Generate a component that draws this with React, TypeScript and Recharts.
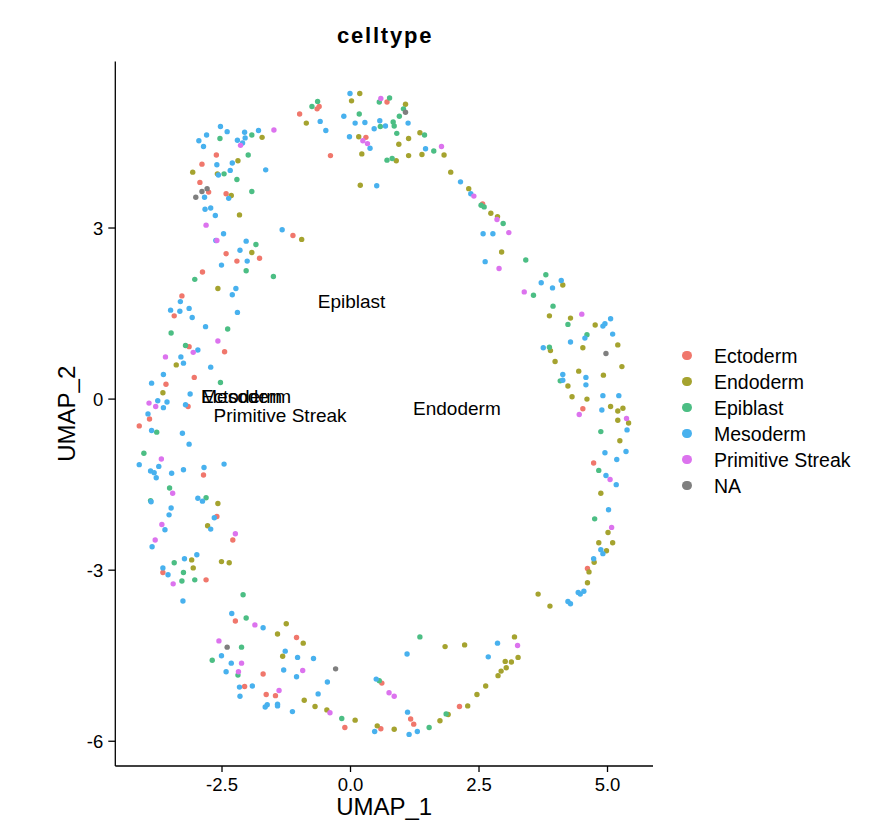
import React from 'react';
import { ScatterChart, Scatter, XAxis, YAxis } from 'recharts';

const FONT = '"Liberation Sans", Arial, Helvetica, sans-serif';

const CATEGORIES = ['Ectoderm', 'Endoderm', 'Epiblast', 'Mesoderm', 'Primitive Streak', 'NA'];
const COLORS = ['#F0776C', '#A5A32F', '#4CBE84', '#48B1EE', '#DC73EE', '#7F7F7F'];

const ECTODERM: [number, number][] = [
  [-2.61, 4.28], [-2.89, 4.12], [-2.93, 3.8], [-2.76, 3.63], [-2.42, 3.6], [-1.12, 2.87], [-2.42, 2.55],
  [-1.77, 2.47], [-2.21, 2.42], [-2.88, 2.23], [-3.28, 1.81],
  [0.71, 5.21], [-0.61, 5.13], [-0.65, 5.09], [-0.99, 5.0], [0.3, 4.59], [-0.39, 4.27],
  [2.57, 3.42],
  [-3.43, 1.46], [-3.14, 0.92], [-2.45, 0.83], [-3.04, 0.38], [-3.59, 0.26], [-3.16, -0.13], [-3.91, -0.35],
  [-4.11, -0.47], [-2.86, -1.33],
  [-2.6, -2.06], [-2.29, -2.47], [-3.65, -3.04], [-2.81, -3.17],
  [4.52, -0.17], [4.73, -1.12], [4.61, -2.97],
  [-2.24, -3.89], [-1.05, -4.18], [-1.7, -4.82], [-2.06, -5.04], [-1.64, -5.18], [-1.46, -5.2], [-0.11, -5.76],
  [2.12, -5.39], [0.61, -4.98], [1.17, -5.61], [1.23, -5.7], [0.59, -5.78],
];

const ENDODERM: [number, number][] = [
  [-1.72, 4.59], [-2.19, 4.18], [-3.07, 3.98], [-2.59, 3.95], [-2.32, 3.57], [-2.16, 3.23], [-0.95, 2.8],
  [-1.92, 2.57], [-2.58, 1.94],
  [0.18, 5.36], [0.02, 5.23], [1.07, 5.17], [-0.86, 4.84], [0.16, 4.6], [0.22, 4.3], [0.94, 4.47], [1.13, 4.57],
  [1.35, 4.67], [1.82, 4.28], [1.39, 4.29], [1.13, 4.27], [0.89, 4.18], [1.95, 3.98], [2.3, 3.69], [0.19, 3.75],
  [2.73, 3.26], [2.86, 3.2], [2.94, 2.58], [4.13, 2.0], [3.87, 1.46], [4.28, 1.42], [4.76, 1.3], [5.2, 0.95],
  [3.89, 0.85], [4.52, 0.9], [3.98, 0.66], [5.28, 0.57], [4.44, 0.49], [4.92, 0.42], [4.23, 0.23], [4.31, 0.04],
  [4.6, 0.0],
  [-3.39, 0.6], [-3.65, 0.11],
  [-2.58, -1.83], [-2.78, -2.22], [-3.09, -2.82], [-2.51, -2.85], [-2.36, -2.87], [-3.06, -2.96],
  [5.06, -0.13], [5.2, -0.21], [5.3, -0.16], [5.2, -0.37], [5.41, -0.42], [5.24, -0.73], [4.87, -1.65],
  [5.01, -2.34], [4.83, -2.52], [5.1, -2.52], [4.98, -2.66], [4.74, -2.86], [4.64, -3.03], [4.61, -3.22],
  [3.65, -3.42], [3.88, -3.63],
  [-1.25, -3.94], [-1.42, -4.12], [-0.92, -4.28], [-1.32, -4.51], [-0.9, -5.28], [-0.69, -5.39], [-0.46, -5.45],
  [0.09, -5.63],
  [1.84, -4.34], [2.22, -4.31], [3.19, -4.17], [3.01, -4.6], [3.13, -4.61], [3.26, -4.53], [3.03, -4.71],
  [2.93, -4.77], [2.87, -4.85], [2.63, -5.03], [2.46, -5.18], [2.28, -5.38], [1.9, -5.53], [1.74, -5.64],
  [0.52, -5.73], [0.85, -5.79],
];

const EPIBLAST: [number, number][] = [
  [-2.54, 4.57], [-1.92, 4.63], [-1.99, 4.28], [-2.46, 3.95], [-2.21, 3.85], [-1.92, 3.64], [-1.84, 2.71],
  [-2.03, 2.25], [-3.03, 2.1], [-1.5, 2.15],
  [0.76, 5.28], [0.56, 5.21], [1.03, 5.09], [-0.64, 5.22], [-0.75, 5.13], [0.17, 5.0], [0.95, 4.96],
  [0.83, 4.86], [0.85, 4.79], [0.58, 4.78], [0.9, 4.66], [1.44, 4.63], [1.62, 4.35], [0.71, 4.19], [0.81, 4.22],
  [2.54, 3.4], [2.6, 3.37], [2.97, 3.08], [3.41, 2.44], [3.8, 2.18], [3.56, 1.82], [3.94, 1.63], [4.23, 1.31],
  [4.6, 1.13], [3.87, 0.91], [4.08, 0.32],
  [-2.39, 1.23], [-3.49, 1.16], [-3.21, 0.94], [-2.53, 0.29], [-3.77, -0.58], [-4.02, -0.95],
  [-3.52, -1.56], [-3.89, -1.78], [-2.81, -1.73], [-3.43, -2.87], [-3.25, -3.04], [-3.28, -3.19],
  [-3.03, -3.17], [-2.09, -3.43],
  [4.87, -0.57], [4.83, -1.25], [4.75, -2.1],
  [-2.03, -3.84], [-2.12, -4.35], [-2.69, -4.58], [-2.19, -4.84], [-0.17, -5.6],
  [1.35, -4.17], [0.56, -4.94], [1.86, -5.52], [1.53, -5.76],
];

const MESODERM: [number, number][] = [
  [-2.53, 4.78], [-2.4, 4.69], [-2.8, 4.63], [-2.95, 4.53], [-2.86, 4.43], [-2.06, 4.68], [-2.05, 4.58],
  [-2.2, 4.54], [-2.1, 4.49], [-1.79, 4.71], [-2.6, 4.11], [-2.3, 4.14], [-2.57, 3.93], [-2.34, 4.01],
  [-1.65, 4.02], [-2.84, 3.54], [-2.37, 3.52], [-2.83, 3.33], [-2.72, 3.35], [-2.63, 3.22], [-2.47, 2.9],
  [-2.62, 2.78], [-2.03, 2.77], [-1.33, 2.97], [-2.15, 2.61], [-2.01, 2.42], [-2.51, 2.35], [-2.23, 1.94],
  [-2.3, 1.83],
  [-0.01, 5.36], [-0.59, 4.87], [-0.48, 4.71], [-0.13, 4.96], [0.09, 4.84], [0.28, 4.85], [0.57, 4.88],
  [1.12, 4.84], [0.46, 4.74], [0.68, 4.79], [-0.02, 4.6], [0.38, 4.4], [1.46, 4.39], [2.14, 3.81], [2.34, 3.6],
  [0.51, 3.74],
  [2.58, 2.9], [2.77, 2.9], [2.62, 2.41], [4.1, 2.08], [3.71, 2.04], [3.93, 1.95], [4.91, 1.28], [4.95, 1.32],
  [5.06, 1.41], [5.1, 1.14], [4.56, 1.07], [4.28, 1.0], [3.75, 0.9], [4.13, 0.43], [4.13, 0.33], [4.58, 0.38],
  [4.58, 0.25], [4.91, 0.06], [5.22, 0.06],
  [-3.31, 1.71], [-3.5, 1.56], [-3.32, 1.54], [-3.14, 1.59], [-3.08, 1.43], [-2.2, 1.52], [-2.82, 1.27],
  [-2.97, 0.86], [-3.3, 0.74], [-3.25, 0.63], [-2.72, 0.56], [-3.64, 0.43], [-3.87, 0.28], [-3.12, 0.09],
  [-3.75, -0.03], [-3.57, -0.05], [-3.64, -0.15], [-3.21, -0.1], [-3.94, -0.26], [-3.87, -0.55], [-3.27, -0.6],
  [-3.14, -0.79], [-4.11, -1.15], [-3.73, -1.18], [-2.46, -1.14], [-3.89, -1.26], [-3.82, -1.29],
  [-3.78, -1.38], [-3.48, -1.3], [-3.25, -1.24], [-2.85, -1.2],
  [-3.88, -1.8], [-3.49, -1.91], [-3.53, -2.03], [-2.97, -1.74], [-2.88, -1.79], [-2.65, -2.08], [-2.72, -2.28],
  [-3.61, -2.29], [-3.86, -2.59], [-2.99, -2.73], [-3.23, -2.8], [-3.65, -2.96], [-3.55, -3.08], [-3.26, -3.54],
  [4.89, -0.19], [5.38, -0.54], [4.95, -0.94], [5.36, -0.92], [5.18, -1.06], [4.97, -1.34], [5.17, -1.5],
  [5.02, -1.94], [4.87, -2.64], [4.91, -2.71], [4.73, -2.8], [4.43, -3.39], [4.47, -3.42], [4.54, -3.37],
  [4.23, -3.55], [4.28, -3.59],
  [-2.31, -3.76], [-1.7, -4.01], [-2.51, -4.5], [-2.32, -4.63], [-2.42, -4.78], [-1.27, -4.42], [-1.03, -4.53],
  [-0.72, -4.55], [-1.3, -4.75], [-1.05, -4.87], [-0.45, -4.96], [-2.16, -5.05], [-1.91, -5.03], [-2.15, -5.21],
  [-0.63, -5.17], [-1.66, -5.4], [-1.62, -5.36], [-1.42, -5.38], [-1.42, -5.35], [-1.13, -5.48],
  [2.86, -4.28], [1.1, -4.47], [2.68, -4.52], [0.5, -4.91], [1.11, -5.49], [1.3, -5.83], [1.14, -5.88],
  [0.47, -5.83],
];

const PRIMITIVE_STREAK: [number, number][] = [
  [-2.14, 4.45], [-1.49, 4.72], [-2.81, 3.05], [-2.6, 2.78],
  [0.59, 5.27], [0.24, 4.53], [0.33, 4.48], [1.77, 4.43], [2.4, 3.56],
  [2.85, 3.15], [3.08, 2.92], [2.89, 2.29], [3.38, 1.88], [4.5, 1.49],
  [-2.58, 1.02], [-3.06, 0.82], [-3.6, 0.74], [-3.92, -0.07], [-3.79, -0.13], [-3.68, -1.05],
  [-3.46, -1.65], [-3.67, -2.2], [-2.24, -2.36], [-3.8, -2.47], [-3.45, -3.24],
  [4.45, -0.27], [5.37, -0.34], [5.05, -1.41], [5.08, -2.25],
  [-1.86, -3.96], [-2.56, -4.24], [-2.12, -4.63], [-2.18, -4.78], [-0.93, -4.76], [-1.39, -5.11], [-0.4, -5.5],
  [3.25, -4.32], [0.75, -5.15], [0.85, -5.21],
];

const NA_CELLS: [number, number][] = [
  [-2.79, 3.69], [-2.89, 3.64], [-3.01, 3.54], [1.07, 5.03], [4.97, 0.8], [-2.4, -4.35], [-0.29, -4.73],
];

const SERIES = [ECTODERM, ENDODERM, EPIBLAST, MESODERM, PRIMITIVE_STREAK, NA_CELLS];

const LABEL_TEXT = ['Epiblast', 'Ectoderm', 'Mesoderm', 'Primitive Streak', 'Endoderm'];
const LABEL_X = [0.02, -2.12, -2.03, -1.37, 2.07];
const LABEL_Y = [1.72, 0.04, 0.04, -0.28, -0.17];

const X_TICKS = [-2.5, 0, 2.5, 5];
const Y_TICKS = [-6, -3, 0, 3];
const X_DOMAIN: [number, number] = [-4.576, 5.885];
const Y_DOMAIN: [number, number] = [-6.434, 5.92];

const CHART_W = 866;
const CHART_H = 830;
const MARGIN = { top: 53.5, right: 221, bottom: 0, left: 0 };
const Y_AXIS_W = 107.3;
const X_AXIS_H = 72;

const labelData = LABEL_TEXT.map((t, i) => ({ x: LABEL_X[i], y: LABEL_Y[i], label: t }));

const XTitle = (props: any) => {
  const vb = props && props.viewBox && props.viewBox.width
    ? props.viewBox
    : { x: Y_AXIS_W, y: CHART_H - X_AXIS_H, width: CHART_W - MARGIN.right - Y_AXIS_W, height: X_AXIS_H };
  const cx = vb.x + vb.width / 2;
  return (
    <g>
      <text x={cx} y={vb.y + 49} textAnchor="middle" fontSize={24} fontFamily={FONT} fill="#000">UMAP_1</text>
      <text x={cx + 1} y={35.3} textAnchor="middle" fontSize={22} fontWeight="bold" fontFamily={FONT}
        fill="#000" letterSpacing={1.8}>celltype</text>
    </g>
  );
};

const YTitle = (props: any) => {
  const vb = props && props.viewBox && props.viewBox.height
    ? props.viewBox
    : { x: 0, y: MARGIN.top, width: Y_AXIS_W, height: CHART_H - MARGIN.top - X_AXIS_H };
  const cy = vb.y + vb.height / 2;
  const x = 67;
  return (
    <text x={x} y={cy} transform={`rotate(-90, ${x}, ${cy})`} textAnchor="middle" fontSize={24}
      fontFamily={FONT} fill="#000">UMAP_2</text>
  );
};

const makeDot = (color: string) => (props: any) => {
  const { cx, cy } = props;
  if (cx == null || cy == null) return <g />;
  return <circle cx={cx} cy={cy} r={2.7} fill={color} />;
};

const LabelShape = (props: any) => {
  const { cx, cy, payload } = props;
  if (cx == null || cy == null) return <g />;
  return (
    <text x={cx} y={cy} textAnchor="middle" dominantBaseline="central" fontSize={19} fontFamily={FONT} fill="#000">
      {payload && payload.label}
    </text>
  );
};

export default function App() {
  return (
    <div style={{ position: 'relative', width: CHART_W, height: CHART_H, fontFamily: FONT }}>
      <ScatterChart width={CHART_W} height={CHART_H} margin={MARGIN}>
        <XAxis
          type="number"
          dataKey="x"
          domain={X_DOMAIN}
          allowDataOverflow
          ticks={X_TICKS}
          interval={0}
          tickFormatter={(v: number) => v.toFixed(1)}
          height={X_AXIS_H}
          tickSize={6}
          tickMargin={6}
          axisLine={{ stroke: '#000', strokeWidth: 1.3 }}
          tickLine={{ stroke: '#000', strokeWidth: 1.3 }}
          tick={{ fill: '#000', fontSize: 18.5, fontFamily: FONT }}
          label={XTitle}
        />
        <YAxis
          type="number"
          dataKey="y"
          domain={Y_DOMAIN}
          allowDataOverflow
          ticks={Y_TICKS}
          interval={0}
          tickFormatter={(v: number) => String(v)}
          width={Y_AXIS_W}
          tickSize={7}
          tickMargin={5}
          axisLine={{ stroke: '#000', strokeWidth: 1.3 }}
          tickLine={{ stroke: '#000', strokeWidth: 1.3 }}
          tick={{ fill: '#000', fontSize: 18.5, fontFamily: FONT }}
          label={YTitle}
        />
        {SERIES.map((arr, i) => (
          <Scatter
            key={CATEGORIES[i]}
            name={CATEGORIES[i]}
            data={arr.map(([x, y]) => ({ x, y }))}
            fill={COLORS[i]}
            shape={makeDot(COLORS[i])}
            isAnimationActive={false}
          />
        ))}
        <Scatter name="labels" data={labelData} shape={LabelShape} isAnimationActive={false} />
      </ScatterChart>
      <div style={{ position: 'absolute', left: 674, top: 334.7 }}>
        {CATEGORIES.map((c, i) => (
          <div key={c} style={{ display: 'flex', alignItems: 'center', height: 26 }}>
            <div style={{ width: 9.5, height: 9.5, borderRadius: '50%', background: COLORS[i] }} />
            <div style={{ marginLeft: 22.5, fontSize: 19.5, color: '#000', whiteSpace: 'nowrap', lineHeight: '26px' }}>{c}</div>
          </div>
        ))}
      </div>
    </div>
  );
}
